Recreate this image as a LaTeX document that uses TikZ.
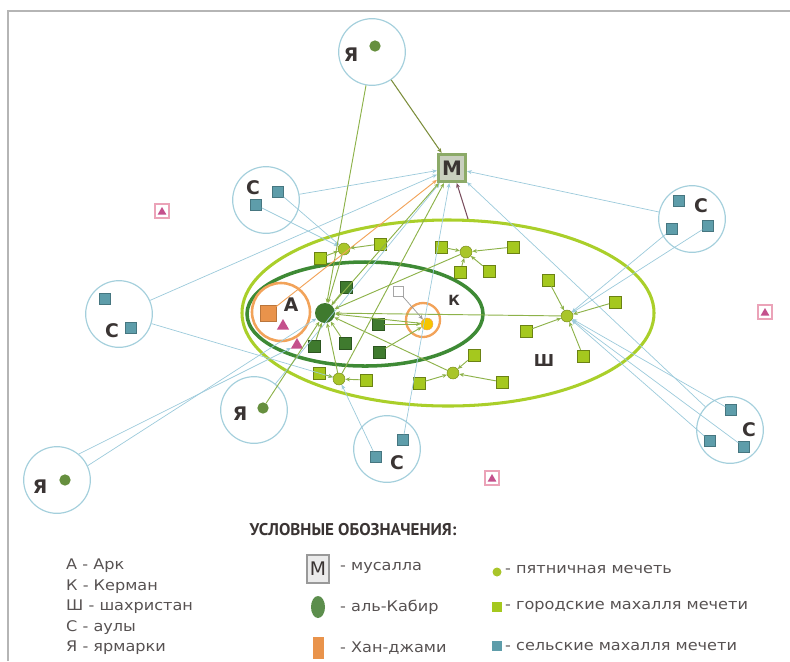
\documentclass[tikz,border=0pt]{standalone}
\usepackage{fontspec}
\setmainfont{DejaVu Sans}
\newfontfamily\lgdfont[FakeStretch=1.1]{DejaVu Sans}
\newfontfamily\ttlfont{PT Sans}
\usetikzlibrary{arrows.meta,shapes.geometric}

\definecolor{framec}{HTML}{B5B5B5}
\definecolor{aulc}{HTML}{A4CFDC}
\definecolor{linkb}{HTML}{9CCADB}
\definecolor{rural}{HTML}{5E9DAA}
\definecolor{citysq}{HTML}{A5C81E}
\definecolor{fri}{HTML}{A9C52A}
\definecolor{kgreen}{HTML}{3F7A2E}
\definecolor{outerg}{HTML}{AACF2A}
\definecolor{innerg}{HTML}{3E8A35}
\definecolor{orng}{HTML}{F2A35A}
\definecolor{khanc}{HTML}{E9934B}
\definecolor{tric}{HTML}{C4508C}
\definecolor{pinkb}{HTML}{EBA3B8}
\definecolor{ydot}{HTML}{F6C500}
\definecolor{musf}{HTML}{8CAA68}
\definecolor{musin}{HTML}{C9CFBF}
\definecolor{txt}{HTML}{3A3433}
\definecolor{glink}{HTML}{8DB24A}
\definecolor{olink}{HTML}{7C8E3C}
\definecolor{brlink}{HTML}{7A4E5E}
\definecolor{yadot}{HTML}{668F3E}

\tikzset{
  aul/.style={circle,draw=aulc,line width=1pt,minimum size=2cm,inner sep=0},
  rsq/.style={rectangle,fill=rural,draw=rural!75!black,line width=0.3pt,minimum size=0.33cm,inner sep=0},
  csq/.style={rectangle,fill=citysq,draw=citysq!65!black,line width=0.4pt,minimum size=0.36cm,inner sep=0},
  ksq/.style={rectangle,fill=kgreen,draw=kgreen!70!black,line width=0.4pt,minimum size=0.36cm,inner sep=0},
  fmq/.style={circle,fill=fri,draw=fri!70!black,line width=0.4pt,minimum size=0.36cm,inner sep=0},
  yad/.style={circle,fill=yadot,minimum size=0.34cm,inner sep=0},
  tri/.style={regular polygon,regular polygon sides=3,fill=tric,minimum size=0.42cm,inner sep=0},
  mkt/.style={rectangle,draw=pinkb,line width=0.9pt,fill=white,minimum size=0.42cm,inner sep=0},
  lbl/.style={font=\bfseries\fontsize{16}{16}\selectfont,text=txt,inner sep=0},
  lgd/.style={font=\lgdfont\fontsize{12.5}{13}\selectfont,text=txt!85,anchor=west,inner sep=0},
  blk/.style={draw=linkb,line width=0.6pt,->},
  glk/.style={draw=glink,line width=0.8pt,->},
}

\begin{document}
\begin{tikzpicture}[x=0.03cm,y=-0.03cm,>={Stealth[length=4pt,width=3.4pt]}]
  \useasboundingbox (0,0) rectangle (790,661);
  \draw[framec,line width=1.6pt] (8,661)--(8,11)--(790,11);

  % city: shahristan, Kerman, Ark
  \node[ellipse,draw=outerg,line width=2.6pt,minimum width=12.36cm,minimum height=5.58cm] (shahr) at (448,313) {};
  \node[ellipse,draw=innerg,line width=3pt,minimum width=7.08cm,minimum height=3.12cm] (kerm) at (365,314) {};
  \node[circle,draw=orng,line width=2.2pt,minimum size=1.74cm] (ark) at (281,312) {};
  \node[circle,draw=orng,line width=2pt,minimum size=1.02cm] (kring) at (423,320) {};
  \node[lbl] (lA) at (291,305) {А};
  \node[lbl,font=\bfseries\fontsize{12}{12}\selectfont] (lK) at (454,300) {К};
  \node[lbl,font=\bfseries\fontsize{14}{14}\selectfont] (lSh) at (544,361) {Ш};

  % musalla
  \node[draw=musf,line width=3pt,fill=musin,minimum size=0.8cm,inner sep=0,text=txt,font=\bfseries\fontsize{17}{17}\selectfont] (mus) at (452,168) {M};

  % auls (С) and fairs (Я)
  \node[aul] (yaT) at (372,52) {};   \node[lbl] (lyaT) at (351,55) {Я};   \node[yad] (dyaT) at (375,46) {};
  \node[aul] (yaM) at (254,410) {};  \node[lbl] (lyaM) at (240,414) {Я};  \node[yad] (dyaM) at (263,408) {};
  \node[aul] (yaB) at (57,480) {};   \node[lbl] (lyaB) at (40,487) {Я};   \node[yad] (dyaB) at (65,480) {};
  \node[aul] (sUL) at (266,200) {};  \node[lbl] (lsUL) at (253,188) {С};
  \node[rsq] (sUL1) at (278,192) {}; \node[rsq] (sUL2) at (256,205) {};
  \node[aul] (sL) at (119,314) {};   \node[lbl] (lsL) at (112,331) {С};
  \node[rsq] (sL1) at (105,299) {};  \node[rsq] (sL2) at (131,328) {};
  \node[aul] (sB) at (387,449) {};   \node[lbl] (lsB) at (397,463) {С};
  \node[rsq] (sB1) at (403,440) {};  \node[rsq] (sB2) at (376,457) {};
  \node[aul] (sRT) at (692,219) {};  \node[lbl] (lsRT) at (701,206) {С};
  \node[rsq] (sRT1) at (679,201) {}; \node[rsq] (sRT2) at (672,229) {}; \node[rsq] (sRT3) at (708,226) {};
  \node[aul] (sRB) at (730,430) {};  \node[lbl] (lsRB) at (749,430) {С};
  \node[rsq] (sRB1) at (731,410) {}; \node[rsq] (sRB2) at (710,441) {}; \node[rsq] (sRB3) at (744,447) {};

  % markets
  \node[mkt] (mk1) at (162,211) {}; \node[tri,minimum size=0.3cm] (mt1) at (162,212) {};
  \node[mkt] (mk2) at (765,312) {}; \node[tri,minimum size=0.3cm] (mt2) at (765,313) {};
  \node[mkt] (mk3) at (492,478) {}; \node[tri,minimum size=0.3cm] (mt3) at (492,479) {};

  % Ark and al-Kabir
  \node[rectangle,fill=khanc,draw=khanc!80!black,line width=0.3pt,minimum size=0.48cm,inner sep=0] (khan) at (268,313) {};
  \node[tri] (tri1) at (283,326) {}; \node[tri] (tri2) at (297,345) {};
  \node[circle,fill=kgreen,minimum size=0.6cm,inner sep=0] (kab) at (325,313) {};

  % Kerman
  \node[circle,fill=ydot,draw=orng,line width=0.4pt,minimum size=0.36cm,inner sep=0] (kfm) at (427,324) {};
  \node[rectangle,draw=black!35,fill=white,line width=0.5pt,minimum size=0.3cm,inner sep=0] (wsq) at (398,291) {};
  \node[ksq] (k1) at (346,287) {}; \node[ksq] (k2) at (378,324) {}; \node[ksq] (k3) at (345,343) {};
  \node[ksq] (k4) at (379,352) {}; \node[ksq] (k5) at (314,346) {};

  % friday mosques with their mahallas
  \node[fmq] (fm1) at (344,249) {}; \node[csq] (m1a) at (380,244) {}; \node[csq] (m1b) at (320,258) {};
  \node[fmq] (fm2) at (466,252) {}; \node[csq] (m2a) at (441,247) {}; \node[csq] (m2b) at (513,247) {};
  \node[csq] (m2c) at (460,272) {}; \node[csq] (m2d) at (489,271) {};
  \node[fmq] (fm3) at (567,316) {}; \node[csq] (m3a) at (548,280) {}; \node[csq] (m3b) at (615,302) {};
  \node[csq] (m3c) at (526,331) {}; \node[csq] (m3d) at (583,356) {};
  \node[fmq] (fm4) at (453,373) {}; \node[csq] (m4a) at (474,355) {}; \node[csq] (m4b) at (419,383) {};
  \node[csq] (m4c) at (502,382) {};
  \node[fmq] (fm5) at (339,379) {}; \node[csq] (m5a) at (319,373) {}; \node[csq] (m5b) at (366,380) {};

  % links of the auls
  \draw[blk] (sUL) -- (mus); \draw[blk] (sUL1) -- (fm1); \draw[blk] (sUL2) -- (fm1);
  \draw[blk] (sL) -- (mus);  \draw[blk] (sL) -- (fm5);
  \draw[blk] (yaB.50) -- (tri2); \draw[blk] (yaB.25) -- (kab);
  \draw[blk] (yaM) -- (mus);
  \draw[blk] (sB1) -- (mus); \draw[blk] (sB2) -- (fm5);
  \draw[blk] (sRT) -- (mus); \draw[blk] (sRT2) -- (fm3); \draw[blk] (sRT3) -- (fm3);
  \draw[blk] (sRB) -- (mus); \draw[blk] (sRB1) -- (fm3); \draw[blk] (sRB2) -- (fm3); \draw[blk] (sRB3) -- (fm3);

  % links of the city
  \draw[olink,line width=0.9pt,->] (yaT) -- (mus);
  \draw[glk] (yaT) -- (kab); \draw[glk] (dyaM) -- (kab);
  \draw[draw=orng,line width=0.8pt,->] (khan) -- (mus);
  \draw[brlink,line width=0.9pt,->] (shahr.78) -- (mus);
  \draw[glk] (kab) -- (mus); \draw[glk] (fm5) -- (mus);
  \draw[glk] (fm1) -- (kab); \draw[glk] (fm2) -- (kab); \draw[glk] (fm3) -- (kab);
  \draw[glk] (fm4) -- (kab); \draw[glk] (fm5) -- (kab); \draw[glk] (kfm) -- (kab);
  \draw[glk] (k1) -- (kab); \draw[glk] (k3) -- (kab); \draw[glk] (k5) -- (kab);
  \draw[glk] (k2) -- (kfm); \draw[glk] (k4) -- (kfm); \draw[black!40,line width=0.6pt,->] (wsq) -- (kfm);
  \draw[glk] (m1a) -- (fm1); \draw[glk] (m1b) -- (fm1);
  \draw[glk] (m2a) -- (fm2); \draw[glk] (m2b) -- (fm2); \draw[glk] (m2c) -- (fm2); \draw[glk] (m2d) -- (fm2);
  \draw[glk] (m3a) -- (fm3); \draw[glk] (m3b) -- (fm3); \draw[glk] (m3c) -- (fm3); \draw[glk] (m3d) -- (fm3);
  \draw[glk] (m4a) -- (fm4); \draw[glk] (m4b) -- (fm4); \draw[glk] (m4c) -- (fm4);
  \draw[glk] (m5a) -- (fm5); \draw[glk] (m5b) -- (fm5);

  % legend
  \node[text=txt,font=\ttlfont\bfseries\fontsize{14.5}{15}\selectfont] (ttl) at (353,530) {УСЛОВНЫЕ ОБОЗНАЧЕНИЯ:};
  \node[lgd] (gA) at (66,566) {А - Арк};
  \node[lgd] (gK) at (66,587) {К - Керман};
  \node[lgd] (gSh) at (66,607) {Ш - шахристан};
  \node[lgd] (gS) at (66,628) {С - аулы};
  \node[lgd] (gYa) at (66,648) {Я - ярмарки};
  \node[draw=black!40,line width=2.5pt,fill=black!8,minimum width=0.66cm,minimum height=0.84cm,inner sep=0,text=txt,font=\fontsize{16}{16}\selectfont] (gmus) at (318,569) {M};
  \node[lgd] (tmus) at (340,568) {- мусалла};
  \node[ellipse,fill=kgreen!85,minimum width=0.42cm,minimum height=0.66cm,inner sep=0] (gkab) at (318,607) {};
  \node[lgd] (tkab) at (340,607) {- аль-Кабир};
  \node[rectangle,fill=khanc,minimum width=0.33cm,minimum height=0.66cm,inner sep=0] (gkhan) at (318,648) {};
  \node[lgd] (tkhan) at (340,648) {- Хан-джами};
  \node[circle,fill=fri,minimum size=0.27cm,inner sep=0] (gfm) at (497,572) {};
  \node[lgd] (tfm) at (505,569) {- пятничная мечеть};
  \node[rectangle,fill=citysq,minimum size=0.3cm,inner sep=0] (gcsq) at (497,607) {};
  \node[lgd] (tcsq) at (505,607) {- городские махалля мечети};
  \node[rectangle,fill=rural,minimum size=0.3cm,inner sep=0] (grsq) at (497,646) {};
  \node[lgd] (trsq) at (505,646) {- сельские махалля мечети};
\end{tikzpicture}
\end{document}
